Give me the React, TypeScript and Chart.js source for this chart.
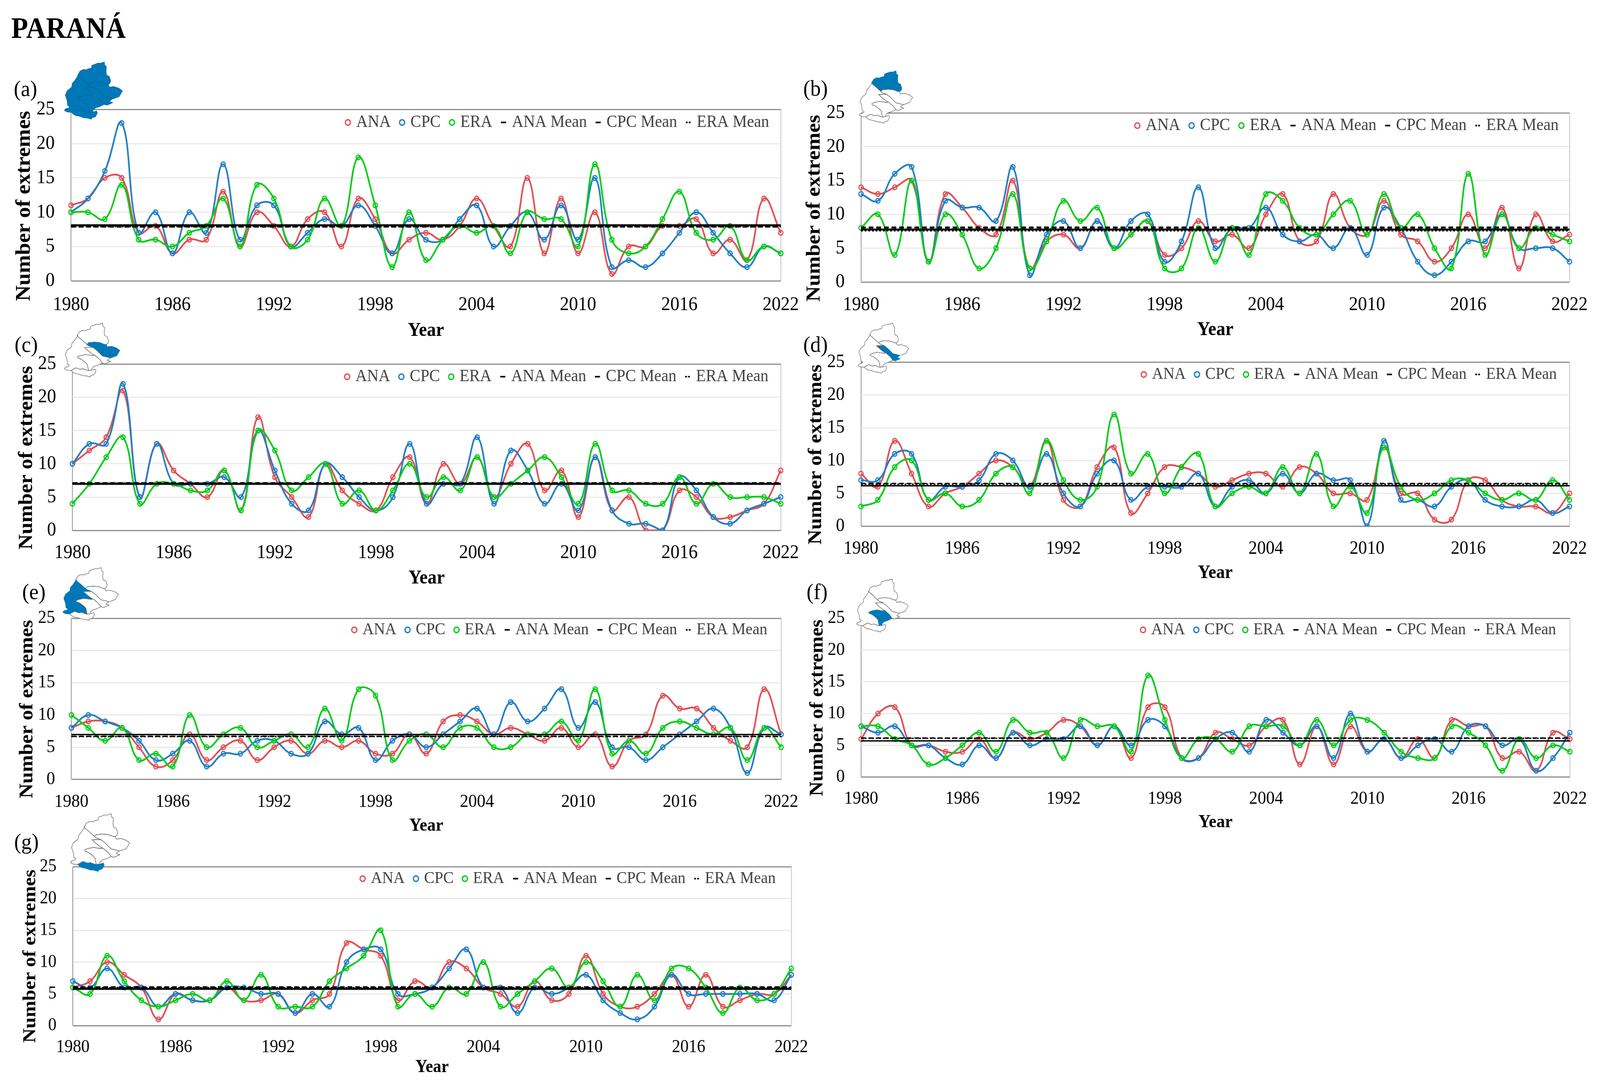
import React, { useEffect, useRef } from "react";
import { Chart, registerables } from "chart.js";

Chart.register(...registerables);

const years = [
  "1980","1981","1982","1983","1984","1985","1986","1987","1988","1989","1990","1991","1992","1993","1994",
  "1995","1996","1997","1998","1999","2000","2001","2002","2003","2004","2005","2006","2007","2008","2009",
  "2010","2011","2012","2013","2014","2015","2016","2017","2018","2019","2020","2021","2022",
];

const anaA = [11,12,15,15,7,8,4,6,6,13,5,10,8,5,9,10,5,12,9,4,6,7,6,8,12,8,5,15,4,12,4,10,1,5,5,8,8,9,4,6,3,12,7];
const cpcA = [10,12,16,23,7,10,4,10,7,17,6,11,11,5,7,9,8,11,8,4,9,6,6,9,11,5,8,10,6,11,6,15,2,3,2,4,7,10,7,4,2,5,4];
const eraA = [10,10,9,14,6,6,5,7,8,12,5,14,12,5,6,12,8,18,11,2,10,3,6,8,7,8,4,10,9,9,5,17,6,4,5,9,13,7,6,8,3,5,4];

const anaB = [14,13,14,15,3,13,11,8,7,15,2,6,7,5,9,5,7,9,4,5,9,6,7,5,10,13,6,6,13,8,7,12,7,6,3,5,10,5,11,2,10,6,7];
const cpcB = [13,12,16,17,3,12,11,11,9,17,1,7,9,5,9,5,9,10,3,6,14,5,8,8,11,7,6,7,5,8,4,11,8,3,1,3,6,6,10,5,5,5,3];
const eraB = [8,10,4,15,3,10,7,2,5,13,2,6,12,9,11,5,7,9,2,2,8,3,8,4,13,12,8,7,10,12,7,13,8,10,5,2,16,4,10,5,8,7,6];

const anaC = [10,12,14,21,5,13,9,7,5,9,3,17,8,5,2,10,6,4,3,8,11,4,10,7,11,5,10,13,6,9,2,11,3,5,0,0,6,5,2,2,3,4,9];
const cpcC = [10,13,13,22,5,13,7,7,7,8,5,15,9,4,3,10,8,5,3,5,13,4,7,7,14,4,12,9,4,7,3,11,3,1,1,0,8,6,2,1,3,4,5];
const eraC = [4,7,11,14,4,7,7,6,6,9,3,15,12,6,8,10,4,6,3,6,10,5,8,6,11,5,7,9,11,8,4,13,6,6,4,4,8,4,7,5,5,5,4];

const anaD = [8,6,13,8,3,5,6,8,10,9,6,13,4,3,9,12,2,5,9,9,8,6,7,8,8,6,9,8,5,5,4,12,5,5,1,1,7,7,4,3,3,2,5];
const cpcD = [7,7,11,11,4,6,6,7,11,10,6,11,5,3,8,10,4,6,6,6,8,3,6,7,5,8,5,8,7,7,0,13,4,4,3,6,7,4,3,3,4,2,3];
const eraD = [3,4,9,10,4,5,3,4,8,9,5,13,7,4,6,17,8,11,5,9,11,3,5,6,5,9,5,11,3,6,2,12,6,4,5,7,7,5,4,5,4,7,4];

const anaE = [8,9,9,8,5,2,3,7,3,5,6,3,5,6,4,6,5,6,4,4,7,4,9,10,9,7,8,7,6,8,5,7,2,6,7,13,11,11,8,6,5,14,7];
const cpcE = [8,10,9,8,6,3,4,6,2,4,4,6,6,4,4,9,7,8,3,6,7,5,7,9,11,7,12,9,11,14,8,12,5,5,3,5,7,9,11,8,1,8,7];
const eraE = [10,8,6,8,3,4,2,10,5,7,8,5,6,7,5,11,6,14,13,3,6,7,5,8,8,5,5,7,7,9,6,14,4,6,4,8,9,8,7,8,3,8,5];

const anaF = [6,10,11,5,5,4,4,6,3,7,6,7,9,8,5,8,3,11,11,3,3,7,6,5,8,9,2,8,2,8,4,6,3,6,3,9,8,8,3,4,1,7,6];
const cpcF = [8,7,8,5,5,3,2,5,3,7,5,6,6,8,5,8,5,9,8,3,3,6,7,4,9,7,5,8,3,10,4,6,3,5,6,4,8,8,5,6,1,3,7];
const eraF = [8,8,6,5,2,3,5,7,4,9,7,7,3,9,8,8,4,16,9,3,6,6,4,8,8,8,5,9,5,9,9,7,4,3,3,8,7,5,1,6,3,5,4];

const anaG = [6,7,10,8,6,1,5,4,4,6,4,4,5,2,4,5,13,12,11,4,7,6,10,9,6,5,3,7,4,5,11,5,3,3,5,8,3,8,3,4,5,5,8];
const cpcG = [7,6,9,6,6,3,5,4,4,6,6,5,5,2,5,3,10,12,12,5,5,6,9,12,6,6,2,6,5,6,8,4,2,1,3,8,5,5,5,5,5,4,8];
const eraG = [6,5,11,7,4,3,4,5,4,7,4,8,3,3,3,7,9,11,15,3,5,3,6,5,10,3,5,7,9,6,10,7,3,8,4,9,9,6,2,6,4,5,9];

const meansA = [7.95, 8.1, 7.9];
const meansB = [7.6, 7.75, 8.05];
const meansC = [7.05, 6.98, 7.1];
const meansD = [6.4, 6.15, 6.5];
const meansE = [6.65, 6.97, 6.7];
const meansF = [6.1, 5.7, 6.15];
const meansG = [5.95, 5.8, 6.05];

const yearTitle = "Year";
const yTitle = "Number of extremes";
const heading = "PARAN\u00C1";

const serif = "'Liberation Serif', 'Times New Roman', serif";
const RED = "#E04F52";
const BLUE = "#1F7EC6";
const GREEN = "#00CC14";
const MAP_BLUE = "#0078B8";

/* The browser's window is clamped to 4096 wide, so the 4404-wide layout is narrowed to fit it. */
const PAGE_W = 4404;
const PAGE_H = 2773;
const VIEW_W = 4096;

/* geometry of the seven panels, in page pixels */
const panels = [
  { id: "a", ana: anaA, cpc: cpcA, era: eraA, means: meansA, mw: 5, l: 196, r: 2149, t: 280, b: 719, tick: 50, titleSize: 56, yTitleOff: 128, xTickOff: 62, yearOff: 128, legSize: 44, legOff: 38, legIn: 33, label: [38, 227], map: [175, 157, 164, 150] },
  { id: "b", ana: anaB, cpc: cpcB, era: eraB, means: meansB, mw: 5, l: 2370, r: 4320, t: 289, b: 722, tick: 50, titleSize: 55, yTitleOff: 128, xTickOff: 59, yearOff: 123, legSize: 44, legOff: 37, legIn: 31, label: [2211, 226], map: [2363, 180, 151, 137] },
  { id: "c", ana: anaC, cpc: cpcC, era: eraC, means: meansC, mw: 5, l: 199, r: 2149, t: 932, b: 1358, tick: 50, titleSize: 54, yTitleOff: 125, xTickOff: 58, yearOff: 123, legSize: 44, legOff: 37, legIn: 35, label: [40, 882], map: [175, 826, 157, 141] },
  { id: "d", ana: anaD, cpc: cpcD, era: eraD, means: meansD, mw: 3.5, l: 2370, r: 4320, t: 927, b: 1347, tick: 48, titleSize: 53, yTitleOff: 123, xTickOff: 58, yearOff: 120, legSize: 43, legOff: 36, legIn: 36, label: [2211, 882], map: [2360, 826, 143, 131] },
  { id: "e", ana: anaE, cpc: cpcE, era: eraE, means: meansE, mw: 3.5, l: 196, r: 2149, t: 1583, b: 1996, tick: 47, titleSize: 52.5, yTitleOff: 121, xTickOff: 58, yearOff: 119, legSize: 43, legOff: 34, legIn: 39, label: [61, 1515], map: [171, 1452, 157, 138] },
  { id: "f", ana: anaF, cpc: cpcF, era: eraF, means: meansF, mw: 3.5, l: 2370, r: 4321, t: 1583, b: 1990, tick: 47, titleSize: 52, yTitleOff: 120, xTickOff: 56, yearOff: 116, legSize: 43, legOff: 34, legIn: 39, label: [2220, 1515], map: [2356, 1481, 146, 139] },
  { id: "g", ana: anaG, cpc: cpcG, era: eraG, means: meansG, mw: 5, l: 201, r: 2178, t: 2219, b: 2626, tick: 46, titleSize: 51, yTitleOff: 117, xTickOff: 56, yearOff: 107, legSize: 43, legOff: 35, legIn: 44, label: [39, 2155], map: [192, 2082, 167, 151] },
];

/* sub-basin shapes for the inset map (local drawing units) */
const regionShapes: Record<string, string> = {
  b: "472,35 440,45 415,45 365,62 360,85 330,90 320,98 290,95 262,108 245,135 250,150 290,180 330,215 345,200 400,195 450,200 490,215 505,215 520,205 527,185 515,152 490,138 487,110 490,72 475,60",
  c: "330,215 345,200 400,195 450,200 490,215 505,215 515,235 555,230 600,245 628,265 600,310 540,330 500,318 470,312 420,265 385,240 345,225",
  d: "308,240 345,238 385,240 420,265 470,312 540,328 515,350 545,358 495,378 470,372 445,340 400,305 385,300 350,275",
  e: "245,135 250,150 290,180 330,215 345,225 385,240 345,238 308,240 350,275 385,300 385,310 320,300 270,310 245,320 250,330 280,340 315,365 335,385 345,436 330,433 295,420 270,425 232,412 188,435 150,432 127,420 135,408 165,400 172,390 155,380 150,340 135,300 150,265 190,235 195,205 215,185 240,150",
  f: "245,320 270,310 320,300 385,310 400,305 445,340 470,372 430,390 395,400 372,420 375,432 345,436 335,385 315,365 280,340 250,330",
  g: "188,435 232,412 270,425 295,420 330,433 345,436 375,432 405,424 412,440 395,470 365,478 360,490 325,480 295,478 255,465 225,460 205,450",
};

function InsetMap({ id, box }: { id: string; box: number[] }) {
  const keys = Object.keys(regionShapes);
  return (
    <svg
      viewBox="120 30 515 465"
      preserveAspectRatio="none"
      style={{ position: "absolute", left: box[0], top: box[1], width: box[2], height: box[3], zIndex: 5 }}
    >
      {keys.map((k) => {
        const on = id === "a" || id === k;
        return (
          <polygon
            key={k}
            points={regionShapes[k]}
            fill={on ? MAP_BLUE : "#ffffff"}
            stroke={id === "a" ? "#0a68a0" : on ? MAP_BLUE : "#666666"}
            strokeWidth={4.5}
            strokeLinejoin="round"
          />
        );
      })}
    </svg>
  );
}

function meanSeries(v: number) {
  return years.map(() => v);
}

const legendInside = {
  id: "legendInside",
  beforeLayout(chart: any) {
    const lg = chart.legend;
    if (lg && !lg.__wrapped) {
      const fit = lg.fit;
      lg.fit = function () {
        fit.call(this);
        this.height = 0;
      };
      lg.__wrapped = true;
    }
  },
  afterLayout(chart: any, _a: any, opts: any) {
    const lg = chart.legend;
    const ca = chart.chartArea;
    const pad = lg.options.labels.padding;
    lg.left = ca.left;
    lg.right = ca.right - opts.inset + pad + 1;
    lg.top = ca.top + opts.center - pad - lg.options.labels.font.size * 0.6;
    lg.bottom = lg.top + 140;
    lg.width = lg.right - lg.left;
    lg.height = 140;
  },
};

function Panel({ p }: { p: any }) {
  const ref = useRef<HTMLCanvasElement | null>(null);
  const padL = p.yTitleOff + p.titleSize * 0.6;
  const padT = 90;
  const padR = 100;
  const xH = p.yearOff + (p.tick * 1.2) / 2;
  const w = padL + (p.r - p.l) + padR;
  const h = padT + (p.b - p.t) + xH;

  useEffect(() => {
    const mk = (label: string, data: number[], color: string, order: number) => ({
      label, data, borderColor: color, backgroundColor: "rgba(255,255,255,0)", borderWidth: 4.5,
      tension: 0.42, pointRadius: 6, pointBorderWidth: 3, pointBorderColor: color,
      pointBackgroundColor: "rgba(255,255,255,0)", order,
    });
    const mn = (label: string, v: number, dash: number[], width: number, order: number) => ({
      label, data: meanSeries(v), borderColor: "#000000", backgroundColor: "#000000", borderWidth: width,
      borderDash: dash, pointRadius: 0, tension: 0, order,
    });
    const chart = new Chart(ref.current as HTMLCanvasElement, {
      type: "line",
      plugins: [legendInside],
      data: {
        labels: years,
        datasets: [
          mk("ANA", p.ana, RED, 5),
          mk("CPC", p.cpc, BLUE, 4),
          mk("ERA", p.era, GREEN, 3),
          mn("ANA Mean", p.means[0], [5, 5], p.mw, 2),
          mn("CPC Mean", p.means[1], [], p.mw, 0),
          mn("ERA Mean", p.means[2], [13, 8], p.mw, 1),
        ],
      } as any,
      options: {
        responsive: false,
        animation: false,
        devicePixelRatio: 1,
        layout: { padding: { left: 0, top: padT, right: padR, bottom: 0 } },
        plugins: {
          tooltip: { enabled: false },
          title: { display: false },
          legendInside: { inset: p.legIn, center: p.legOff },
          legend: {
            display: true,
            position: "top",
            align: "end",
            labels: {
              usePointStyle: true,
              boxWidth: 2,
              boxHeight: 10,
              padding: 30,
              color: "#404040",
              font: { family: serif, size: p.legSize },
              generateLabels(chart: any) {
                return chart.data.datasets.map((d: any, i: number) => {
                  const isMean = i >= 3;
                  return {
                    text: d.label,
                    datasetIndex: i,
                    hidden: false,
                    fontColor: "#404040",
                    pointStyle: isMean ? "line" : "circle",
                    fillStyle: "rgba(255,255,255,0)",
                    strokeStyle: isMean ? "#000000" : d.borderColor,
                    lineWidth: isMean ? 4 : 3.5,
                    lineDash: i === 5 ? [5, 3] : [],
                  };
                });
              },
            },
          },
        } as any,
        scales: {
          x: {
            type: "category",
            offset: false,
            afterFit(s: any) { s.height = xH; },
            grid: {
              drawTicks: false,
              color: (c: any) => (c.index === 0 ? "#a0a0a0" : c.index === 42 ? "#cccccc" : "rgba(0,0,0,0)"),
              lineWidth: 2.5,
            },
            border: { display: false },
            ticks: {
              autoSkip: false,
              maxRotation: 0,
              minRotation: 0,
              padding: p.xTickOff - (p.tick * 1.2) / 2,
              color: "#000000",
              font: { family: serif, size: p.tick },
              callback: (_v: any, i: number) => (i % 6 === 0 ? years[i] : ""),
            },
            title: {
              display: true,
              text: yearTitle,
              color: "#000000",
              padding: 0,
              font: { family: serif, size: p.tick, weight: "bold", lineHeight: 1.2 },
            },
          },
          y: {
            min: 0,
            max: 25,
            afterFit(s: any) { s.width = padL; },
            grid: {
              drawTicks: false,
              color: (c: any) => (c.tick.value === 0 || c.tick.value === 25 ? "#8f8f8f" : "#e6e6e6"),
              lineWidth: (c: any) => (c.tick.value === 0 || c.tick.value === 25 ? 3 : 2.5),
            },
            border: { display: false },
            ticks: {
              stepSize: 5,
              padding: 45,
              color: "#000000",
              font: { family: serif, size: p.tick },
            },
            title: {
              display: true,
              text: yTitle + "\u00A0\u00A0\u00A0\u00A0",
              color: "#000000",
              padding: 0,
              font: { family: serif, size: p.titleSize, weight: "bold", lineHeight: 1.2 },
            },
          },
        },
      } as any,
    });
    return () => chart.destroy();
  }, []);

  return (
    <canvas
      ref={ref}
      width={Math.round(w)}
      height={Math.round(h)}
      style={{ position: "absolute", left: p.l - padL, top: p.t - padT, width: Math.round(w), height: Math.round(h) }}
    />
  );
}

export default function App() {
  return (
    <div style={{ position: "absolute", left: 0, top: 0, width: VIEW_W, height: PAGE_H, overflow: "hidden", background: "#fff" }}>
      <div style={{ position: "absolute", left: 0, top: 0, width: PAGE_W, height: PAGE_H, transform: `scaleX(${VIEW_W / PAGE_W})`, transformOrigin: "0 0", fontFamily: serif }}>
        <div style={{ position: "absolute", left: 31, top: 26, fontSize: 76, lineHeight: "90px", fontWeight: "bold", color: "#000" }}>{heading}</div>
        {panels.map((p) => (
          <Panel key={p.id} p={p} />
        ))}
        {panels.map((p) => (
          <InsetMap key={p.id} id={p.id} box={p.map} />
        ))}
        {panels.map((p) => (
          <div key={p.id} style={{ position: "absolute", left: p.label[0], top: p.label[1] - 35, fontSize: 58, lineHeight: "70px", color: "#000", zIndex: 6 }}>{`(${p.id})`}</div>
        ))}
      </div>
    </div>
  );
}
